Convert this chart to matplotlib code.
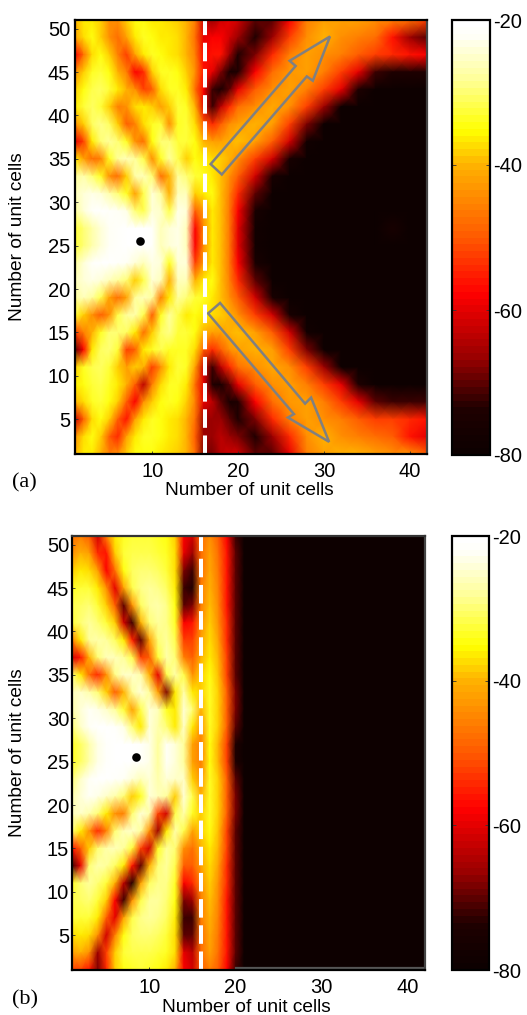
"""Field maps on a unit-cell grid, panels (a) and (b), with a shared dB colour scale."""
import matplotlib

matplotlib.use("Agg")
import matplotlib.pyplot as plt
import numpy as np
from matplotlib.colors import LinearSegmentedColormap
from matplotlib.patches import Polygon

W, H = 527, 1015

rows_y = [51, 49, 47, 45, 43, 41, 39, 37, 35, 33, 31, 29, 27, 25, 23, 21, 19, 17, 15, 13, 11, 9, 7, 5, 3, 1]

# panel (a), one list per row of rows_y
cols_a = [1, 2, 3, 4, 5, 6, 7, 8, 9, 10, 11, 12, 13, 14, 15, 16, 17, 18, 19, 20,
          22, 24, 26, 28, 30, 32, 34, 36, 38, 40, 42]
field_a = [
    [-40, -36, -36, -38, -44, -44, -38, -35, -35, -36, -36, -37, -38, -40, -46, -62, -66, -62, -60, -62, -70, -70, -58, -46, -42, -42, -42, -44, -46, -48, -52],
    [-42, -37, -35, -38, -44, -48, -42, -36, -34, -35, -36, -36, -37, -40, -48, -60, -58, -58, -62, -66, -74, -66, -52, -44, -40, -44, -46, -48, -56, -66, -70],
    [-58, -48, -37, -35, -38, -46, -52, -42, -36, -34, -35, -36, -37, -40, -46, -58, -56, -56, -66, -74, -68, -54, -46, -42, -44, -46, -50, -52, -54, -56, -58],
    [-44, -38, -34, -33, -35, -40, -46, -58, -54, -38, -34, -34, -35, -38, -44, -56, -60, -68, -76, -74, -58, -48, -43, -42, -46, -52, -60, -72, -74, -74, -74],
    [-38, -35, -32, -31, -33, -36, -40, -44, -52, -50, -37, -34, -34, -36, -48, -58, -72, -76, -70, -60, -50, -44, -42, -46, -52, -60, -74, -80, -80, -80, -80],
    [-36, -33, -31, -33, -38, -46, -44, -37, -36, -38, -42, -38, -33, -34, -40, -60, -72, -64, -54, -48, -44, -41, -44, -52, -66, -80, -80, -80, -80, -80, -80],
    [-44, -38, -31, -29, -31, -38, -50, -46, -37, -34, -33, -44, -34, -33, -37, -50, -54, -50, -44, -42, -40, -42, -52, -68, -80, -80, -80, -80, -80, -80, -80],
    [-60, -52, -36, -30, -28, -30, -34, -44, -48, -35, -30, -30, -33, -33, -35, -40, -42, -42, -40, -39, -42, -50, -62, -78, -80, -80, -80, -80, -80, -80, -80],
    [-36, -42, -48, -46, -34, -28, -26, -28, -32, -44, -34, -28, -32, -38, -35, -36, -37, -38, -40, -44, -52, -62, -76, -80, -80, -80, -80, -80, -80, -80, -80],
    [-28, -27, -30, -34, -44, -48, -38, -27, -26, -30, -48, -40, -28, -30, -33, -34, -36, -39, -44, -50, -62, -76, -80, -80, -80, -80, -80, -80, -80, -80, -80],
    [-26, -24, -23, -24, -27, -30, -34, -42, -32, -24, -28, -40, -26, -26, -38, -36, -35, -39, -46, -54, -70, -80, -80, -80, -80, -80, -80, -80, -80, -80, -80],
    [-28, -24, -21, -20, -21, -22, -23, -30, -32, -24, -25, -32, -23, -24, -50, -42, -36, -39, -47, -58, -76, -80, -80, -80, -80, -80, -80, -80, -80, -80, -80],
    [-33, -30, -27, -24, -22, -21, -20, -20, -20, -21, -26, -24, -23, -26, -58, -44, -36, -39, -47, -60, -78, -80, -80, -80, -80, -80, -80, -80, -76, -80, -80],
    [-33, -30, -27, -24, -22, -21, -20, -20, -20, -21, -26, -24, -23, -26, -58, -44, -36, -39, -47, -60, -78, -80, -80, -80, -80, -80, -80, -80, -80, -80, -80],
    [-28, -24, -21, -20, -20, -21, -22, -24, -26, -23, -24, -34, -24, -24, -52, -42, -36, -39, -47, -58, -76, -80, -80, -80, -80, -80, -80, -80, -80, -80, -80],
    [-26, -24, -23, -24, -26, -28, -30, -38, -32, -24, -26, -40, -26, -26, -40, -36, -35, -39, -46, -54, -70, -80, -80, -80, -80, -80, -80, -80, -80, -80, -80],
    [-28, -26, -28, -32, -42, -48, -42, -28, -26, -28, -46, -36, -28, -30, -33, -34, -36, -39, -44, -50, -62, -76, -80, -80, -80, -80, -80, -80, -80, -80, -80],
    [-33, -38, -44, -50, -44, -32, -28, -27, -32, -50, -34, -28, -32, -36, -35, -36, -37, -38, -40, -44, -52, -62, -76, -80, -80, -80, -80, -80, -80, -80, -80],
    [-52, -46, -40, -34, -30, -30, -31, -36, -48, -38, -31, -29, -33, -33, -35, -40, -42, -42, -40, -39, -42, -50, -62, -78, -80, -80, -80, -80, -80, -80, -80],
    [-70, -58, -36, -31, -30, -33, -52, -50, -36, -34, -32, -34, -34, -34, -37, -50, -54, -50, -44, -42, -40, -42, -52, -68, -80, -80, -80, -80, -80, -80, -80],
    [-38, -34, -32, -31, -33, -38, -42, -38, -40, -52, -44, -36, -33, -34, -42, -62, -72, -64, -54, -48, -44, -41, -44, -52, -66, -80, -80, -80, -80, -80, -80],
    [-36, -35, -33, -32, -34, -36, -40, -50, -64, -46, -37, -34, -34, -36, -48, -60, -74, -76, -70, -60, -50, -44, -42, -46, -52, -60, -74, -80, -80, -80, -80],
    [-40, -37, -34, -33, -35, -38, -50, -58, -44, -38, -35, -34, -35, -38, -46, -60, -64, -70, -76, -74, -58, -48, -43, -42, -46, -52, -60, -70, -72, -72, -72],
    [-62, -50, -37, -35, -38, -50, -56, -42, -36, -34, -35, -36, -37, -40, -48, -66, -66, -66, -70, -74, -68, -54, -46, -42, -44, -46, -50, -52, -52, -54, -56],
    [-44, -37, -35, -38, -50, -54, -42, -36, -34, -34, -35, -36, -37, -40, -50, -66, -66, -64, -66, -68, -74, -66, -54, -44, -40, -44, -46, -48, -50, -56, -60],
    [-40, -36, -36, -40, -46, -44, -38, -35, -35, -35, -36, -37, -38, -40, -48, -68, -68, -64, -62, -62, -70, -70, -60, -46, -42, -40, -40, -42, -44, -44, -50],
]

# panel (b), one list per row of rows_y
cols_b = [1, 2, 3, 4, 5, 6, 7, 8, 9, 10, 11, 12, 13, 14, 15, 16, 17, 18, 19, 20, 21, 42]
field_b = [
    [-48, -46, -50, -62, -46, -36, -34, -33, -33, -33, -34, -35, -38, -58, -62, -48, -44, -50, -58, -72, -80, -80],
    [-44, -40, -42, -54, -56, -38, -33, -32, -32, -32, -33, -34, -37, -60, -66, -48, -42, -48, -56, -70, -80, -80],
    [-38, -36, -37, -42, -58, -48, -35, -31, -30, -30, -31, -33, -37, -68, -72, -48, -41, -47, -56, -70, -80, -80],
    [-34, -33, -33, -36, -44, -60, -42, -32, -29, -28, -29, -31, -36, -72, -74, -46, -40, -46, -56, -70, -80, -80],
    [-32, -31, -30, -33, -38, -50, -70, -44, -31, -28, -27, -29, -35, -70, -68, -46, -39, -45, -56, -70, -80, -80],
    [-33, -30, -28, -30, -33, -38, -62, -72, -40, -30, -28, -29, -34, -58, -56, -44, -38, -44, -54, -70, -80, -80],
    [-46, -36, -28, -27, -28, -31, -36, -55, -70, -42, -30, -28, -32, -52, -52, -42, -37, -42, -54, -70, -80, -80],
    [-62, -56, -40, -30, -26, -26, -28, -32, -52, -50, -33, -27, -30, -46, -50, -40, -36, -40, -52, -70, -80, -80],
    [-30, -36, -48, -54, -44, -29, -25, -25, -27, -40, -60, -32, -27, -32, -44, -38, -35, -39, -52, -70, -80, -80],
    [-26, -25, -27, -30, -38, -50, -40, -28, -24, -28, -42, -68, -36, -27, -36, -38, -34, -38, -50, -68, -80, -80],
    [-27, -24, -22, -23, -25, -28, -33, -42, -32, -24, -26, -34, -36, -24, -30, -40, -34, -38, -50, -68, -80, -80],
    [-30, -25, -22, -20, -20, -21, -23, -30, -36, -24, -27, -30, -36, -25, -36, -44, -34, -38, -50, -70, -80, -80],
    [-34, -31, -27, -23, -21, -20, -20, -20, -21, -23, -28, -22, -24, -28, -42, -46, -35, -40, -52, -74, -80, -80],
    [-34, -31, -27, -23, -21, -20, -20, -20, -21, -23, -28, -22, -24, -28, -42, -46, -35, -40, -52, -74, -80, -80],
    [-30, -25, -22, -20, -20, -21, -22, -24, -26, -24, -27, -24, -25, -25, -38, -44, -34, -38, -50, -70, -80, -80],
    [-27, -24, -22, -23, -25, -27, -30, -38, -34, -24, -26, -28, -38, -24, -32, -40, -34, -38, -50, -68, -80, -80],
    [-26, -25, -27, -30, -36, -44, -46, -30, -24, -27, -52, -62, -32, -27, -34, -38, -34, -38, -50, -68, -80, -80],
    [-30, -36, -44, -54, -46, -30, -26, -25, -28, -44, -66, -36, -27, -32, -42, -38, -35, -39, -52, -70, -80, -80],
    [-56, -50, -38, -30, -27, -26, -28, -33, -52, -62, -34, -28, -30, -44, -48, -40, -36, -40, -52, -70, -80, -80],
    [-72, -60, -30, -27, -28, -31, -36, -56, -70, -40, -30, -28, -32, -50, -50, -42, -37, -42, -54, -70, -80, -80],
    [-34, -30, -28, -30, -33, -40, -64, -74, -42, -31, -29, -29, -34, -58, -54, -44, -38, -44, -54, -70, -80, -80],
    [-32, -31, -30, -33, -38, -58, -72, -44, -32, -28, -28, -30, -35, -68, -66, -46, -39, -45, -56, -70, -80, -80],
    [-33, -33, -33, -36, -50, -60, -42, -32, -29, -28, -29, -31, -36, -72, -72, -46, -40, -46, -56, -70, -80, -80],
    [-37, -36, -37, -44, -62, -46, -35, -31, -30, -30, -31, -33, -37, -70, -70, -48, -41, -47, -56, -70, -80, -80],
    [-42, -40, -44, -66, -52, -38, -33, -32, -32, -32, -33, -34, -37, -60, -64, -48, -42, -48, -56, -70, -80, -80],
    [-52, -52, -56, -68, -54, -38, -35, -34, -33, -34, -35, -36, -40, -58, -62, -50, -46, -50, -58, -72, -80, -80],
]

x_ticks = [10, 20, 30, 40]
y_ticks = [5, 10, 15, 20, 25, 30, 35, 40, 45, 50]
cbar_ticks = [-80, -60, -40, -20]

# source marker and dashed boundary
source_a = (8.6, 25.5)
source_b = (8.4, 25.5)
dash_a = 16.1
dash_b = 16.0

# grey arrow outlines of panel (a)
arrow_up = [(30.7, 49.1), (26.0, 46.3), (26.7, 45.7), (16.8, 34.4), (18.1, 33.2), (28.0, 44.5), (28.7, 44.0)]
arrow_down = [(17.9, 18.4), (27.8, 6.8), (28.5, 7.5), (30.6, 2.4), (25.8, 5.2), (26.5, 5.6), (16.5, 17.2)]

cmap = LinearSegmentedColormap.from_list(
    "field",
    [
        (0.0, (0.05, 0.0, 0.0)),
        (0.10, (0.12, 0.0, 0.0)),
        (0.22, (0.6, 0.0, 0.0)),
        (0.37, (1.0, 0.0, 0.0)),
        (0.50, (1.0, 0.35, 0.0)),
        (0.67, (1.0, 0.7, 0.0)),
        (0.75, (1.0, 1.0, 0.0)),
        (0.87, (1.0, 1.0, 0.6)),
        (0.97, (1.0, 1.0, 0.97)),
        (1.0, (1.0, 1.0, 1.0)),
    ],
    N=64,
)

plt.rcParams["font.family"] = ["Liberation Sans", "DejaVu Sans"]
fig = plt.figure(figsize=(W / 100, H / 100), dpi=100)


def px_axes(left, top, right, bottom):
    return fig.add_axes([left / W, 1 - bottom / H, (right - left) / W, (bottom - top) / H])


def draw_panel(box, cbar_box, cols, field, source, dash_x, tag, tag_y, label_y, y_pad):
    ax = px_axes(*box)
    mesh = ax.pcolormesh(cols, rows_y, np.array(field, dtype=float), cmap=cmap, vmin=-80, vmax=-20,
                         shading="gouraud", rasterized=True)
    ax.set_xlim(1, 42)
    ax.set_ylim(1, 51)
    ax.set_xticks(x_ticks)
    ax.set_yticks(y_ticks)
    ax.tick_params(direction="in", length=2, width=0.6, labelsize=14.5, color="#333333")
    ax.tick_params(axis="x", pad=5.5)
    ax.tick_params(axis="y", pad=y_pad)
    fig.text(18 / W, 1 - (box[1] + box[3]) / 2 / H, "Number of unit cells", fontsize=13.8, rotation=90,
             ha="center", va="center")
    fig.text((box[0] + box[2]) / 2 / W - 0.004, 1 - label_y / H, "Number of unit cells", fontsize=13.8,
             ha="center", va="center")
    for side in ax.spines.values():
        side.set_linewidth(1.6)
    ax.spines["right"].set_color("#444444")
    ax.plot([dash_x, dash_x], [1, 51], color="white", lw=2.9, dashes=(4.6, 1.9), dash_capstyle="butt")
    ax.plot(*source, "o", color="black", ms=6.2, mew=0)
    fig.text(12 / W, 1 - tag_y / H, tag, family="Liberation Serif", fontsize=16, ha="left", va="center")

    cax = px_axes(*cbar_box)
    cbar = fig.colorbar(mesh, cax=cax)
    cbar.set_ticks(cbar_ticks)
    cbar.set_ticklabels([str(t) for t in cbar_ticks])
    cax.tick_params(length=3, width=0.6, labelsize=14.5, pad=2, direction="in", left=True, right=True, color="#333333")
    cbar.outline.set_linewidth(1.6)
    return ax


ax_a = draw_panel((75, 20, 427, 454), (452, 20, 490, 455), cols_a, field_a, source_a, dash_a, "(a)", 483, 490, 3.5)
ax_b = draw_panel((72, 536, 425, 970), (452, 536, 489, 970), cols_b, field_b, source_b, dash_b, "(b)", 1000, 1007, 2.0)

for outline in (arrow_up, arrow_down):
    ax_a.add_patch(Polygon(outline, closed=True, fill=False, edgecolor="#808080", lw=1.8, joinstyle="miter"))
ax_b.plot([20, 42], [1.25, 1.25], color="#555555", lw=1.6)
ax_b.spines["top"].set_color("#333333")

fig.savefig("out.png", dpi=100)
plt.close(fig)
